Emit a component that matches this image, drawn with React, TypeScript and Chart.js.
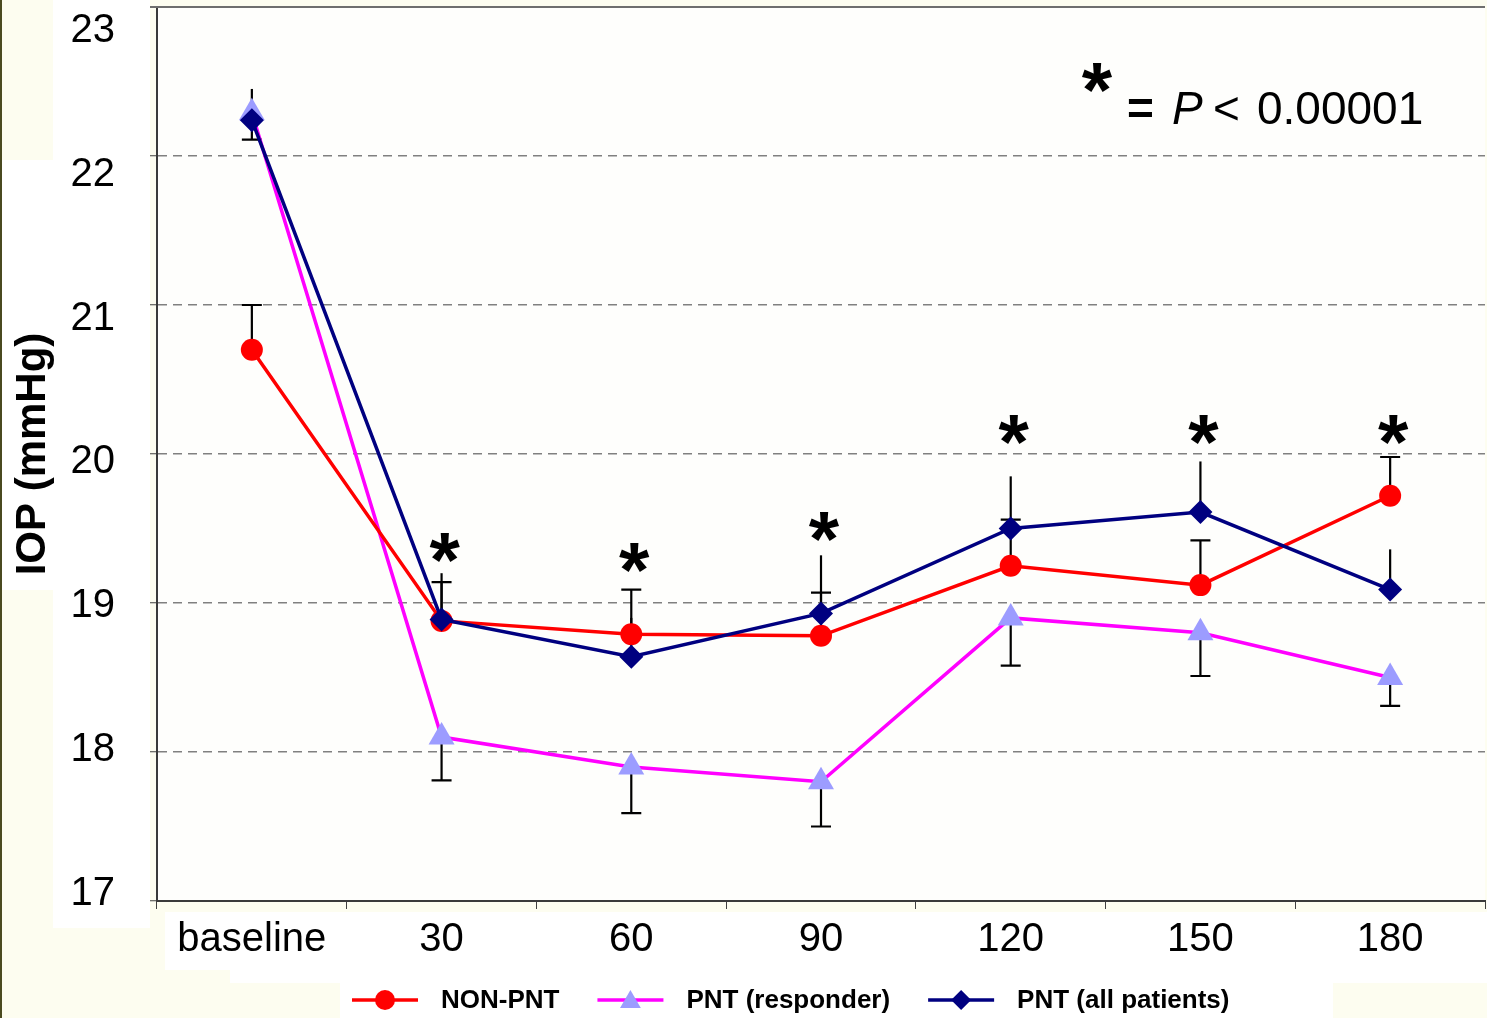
import { useEffect, useRef } from 'react';
import { Chart, registerables } from 'chart.js';

Chart.register(...registerables);

// ---------- data ----------
const categories = ['baseline', '30', '60', '90', '120', '150', '180'];
const seriesNames = ['NON-PNT', 'PNT (responder)', 'PNT (all patients)'];

const nonPnt = [20.7, 18.88, 18.79, 18.78, 19.25, 19.12, 19.72];
const pntResponder = [22.29, 18.1, 17.9, 17.8, 18.9, 18.8, 18.5];
const pntAll = [22.24, 18.89, 18.64, 18.93, 19.5, 19.61, 19.09];

// error bar ends
const nonPntUpper = [21.0, 19.14, 19.09, 19.07, 19.56, 19.42, 19.98];
const pntAllUpper = [22.45, 19.2, 18.9, 19.32, 19.85, 19.95, 19.36];
const pntResponderLower = [22.11, 17.81, 17.59, 17.5, 18.58, 18.51, 18.31];

// significance marks (value at glyph centre)
const asteriskAt: (number | null)[] = [null, 19.37, 19.3, 19.51, 20.16, 20.16, 20.16];

const yMin = 17;
const yMax = 23;
const yStep = 1;
// the tick-label column of the original is slightly stretched relative to the grid
const yLabelMin = 16.93;
const yLabelMax = 23.146;

const yTitle = 'IOP (mmHg)';

// ---------- styles ----------
const FONT = "'Liberation Sans', Arial, Helvetica, sans-serif";
const CREAM = '#FDFDF0';
const PLOT_BG = '#FEFEFC';
const RED = '#FF0000';
const MAGENTA = '#FF00FF';
const LILAC = '#9C9CFF';
const NAVY = '#000080';

function drawMarker(ctx: CanvasRenderingContext2D, kind: string, x: number, y: number, r: number, color: string) {
  ctx.fillStyle = color;
  ctx.beginPath();
  if (kind === 'circle') {
    ctx.arc(x, y, r, 0, Math.PI * 2);
  } else if (kind === 'triangle') {
    ctx.moveTo(x, y - r);
    ctx.lineTo(x + r * 0.866, y + r * 0.5);
    ctx.lineTo(x - r * 0.866, y + r * 0.5);
    ctx.closePath();
  } else {
    ctx.moveTo(x, y - r);
    ctx.lineTo(x + r, y);
    ctx.lineTo(x, y + r);
    ctx.lineTo(x - r, y);
    ctx.closePath();
  }
  ctx.fill();
}

const decorPlugin = {
  id: 'decor',
  beforeDraw(chart: any) {
    const { ctx, chartArea: a, width, height } = chart;
    ctx.save();
    ctx.fillStyle = CREAM;
    ctx.fillRect(0, 0, width, height);
    ctx.fillStyle = '#FFFFFF';
    // tick-label box
    ctx.fillRect(a.left - 104, 0, 97, a.bottom + 27);
    // title box
    ctx.fillRect(2, 160, a.left - 106, 430);
    // category label box
    ctx.fillRect(a.left + 8, a.bottom + 11, width - a.left - 8, 58);
    ctx.fillRect(a.left + 73, a.bottom + 60, width - a.left - 73, 22);
    // legend box
    ctx.fillRect(340, a.bottom + 82, 993, height - a.bottom - 82);
    // plot area
    ctx.fillStyle = PLOT_BG;
    ctx.fillRect(a.left, a.top, a.right - a.left, a.bottom - a.top);
    // left edge line
    ctx.fillStyle = '#4a4a20';
    ctx.fillRect(0, 0, 2, height);
    ctx.restore();
  },
  beforeDatasetsDraw(chart: any) {
    const { ctx, chartArea: a, scales } = chart;
    const xs = scales.x;
    const ys = scales.y;
    ctx.save();
    // top frame line
    ctx.strokeStyle = '#6e6e6e';
    ctx.lineWidth = 2;
    ctx.beginPath();
    ctx.moveTo(a.left - 7, a.top);
    ctx.lineTo(a.right, a.top);
    ctx.stroke();

    // error bars
    ctx.strokeStyle = '#000000';
    ctx.lineWidth = 2.2;
    const bar = (i: number, from: number, to: number, cap: boolean) => {
      const x = xs.getPixelForValue(i);
      const y0 = ys.getPixelForValue(from);
      const y1 = ys.getPixelForValue(to);
      ctx.beginPath();
      ctx.moveTo(x, y0);
      ctx.lineTo(x, y1);
      if (cap) {
        ctx.moveTo(x - 10, y1);
        ctx.lineTo(x + 10, y1);
      }
      ctx.stroke();
    };
    categories.forEach((_, i) => {
      bar(i, pntAll[i], pntAllUpper[i], false);
      bar(i, nonPnt[i], nonPntUpper[i], true);
      bar(i, pntResponder[i], pntResponderLower[i], true);
    });
    ctx.restore();
  },
  afterDatasetsDraw(chart: any) {
    const { ctx, chartArea: a, scales, height } = chart;
    const xs = scales.x;
    const ys = scales.y;
    ctx.save();
    ctx.fillStyle = '#000000';
    ctx.textAlign = 'center';
    ctx.textBaseline = 'alphabetic';
    ctx.font = `bold 78px ${FONT}`;
    const m = ctx.measureText('*');
    const shift = (m.actualBoundingBoxAscent - m.actualBoundingBoxDescent) / 2;
    asteriskAt.forEach((v, i) => {
      if (v == null) return;
      const x = xs.getPixelForValue(i) + 3;
      const y = ys.getPixelForValue(v);
      ctx.fillText('*', x, y + shift);
    });

    // p-value note
    ctx.fillText('*', a.right - 388, a.top + 71 + shift);
    ctx.textAlign = 'left';
    ctx.font = `bold 46px ${FONT}`;
    ctx.fillText('=', a.right - 358, a.top + 117);
    ctx.font = `italic 46px ${FONT}`;
    ctx.fillText('P', a.right - 313, a.top + 117);
    ctx.font = `46px ${FONT}`;
    ctx.fillText('<', a.right - 272, a.top + 117);
    ctx.fillText('0.00001', a.right - 228, a.top + 117);

    // legend
    const items = [
      { label: seriesNames[0], line: RED, marker: RED, kind: 'circle', r: 10 },
      { label: seriesNames[1], line: MAGENTA, marker: LILAC, kind: 'triangle', r: 12 },
      { label: seriesNames[2], line: NAVY, marker: NAVY, kind: 'diamond', r: 10 },
    ];
    const cy = height - 18;
    let x = 352;
    ctx.font = `bold 26px ${FONT}`;
    ctx.textBaseline = 'middle';
    items.forEach((it) => {
      ctx.strokeStyle = it.line;
      ctx.lineWidth = 3.5;
      ctx.beginPath();
      ctx.moveTo(x, cy);
      ctx.lineTo(x + 66, cy);
      ctx.stroke();
      drawMarker(ctx, it.kind, x + 33, cy + (it.kind === 'triangle' ? 2 : 0), it.r, it.marker);
      const tx = x + 66 + 23;
      ctx.fillStyle = '#000000';
      ctx.fillText(it.label, tx, cy + 1);
      x = tx + ctx.measureText(it.label).width + 38;
    });
    ctx.restore();
  },
};

export default function App() {
  const ref = useRef<HTMLCanvasElement | null>(null);

  useEffect(() => {
    document.body.style.margin = '0';
    const canvas = ref.current;
    if (!canvas) return;
    const chart = new Chart(canvas, {
      type: 'line',
      data: {
        labels: categories,
        datasets: [
          {
            label: seriesNames[2],
            data: pntAll,
            borderColor: NAVY,
            backgroundColor: NAVY,
            borderWidth: 3.5,
            pointStyle: 'rectRot',
            pointRadius: 12,
            pointBackgroundColor: NAVY,
            pointBorderColor: NAVY,
            pointBorderWidth: 0,
            tension: 0,
          },
          {
            label: seriesNames[0],
            data: nonPnt,
            borderColor: RED,
            backgroundColor: RED,
            borderWidth: 3.5,
            pointStyle: 'circle',
            pointRadius: 11,
            pointBackgroundColor: RED,
            pointBorderColor: RED,
            pointBorderWidth: 0,
            tension: 0,
          },
          {
            label: seriesNames[1],
            data: pntResponder,
            borderColor: MAGENTA,
            backgroundColor: LILAC,
            borderWidth: 3.5,
            pointStyle: 'triangle',
            pointRadius: 15,
            pointBackgroundColor: LILAC,
            pointBorderColor: LILAC,
            pointBorderWidth: 0,
            tension: 0,
          },
        ],
      },
      options: {
        responsive: false,
        animation: false,
        devicePixelRatio: 1,
        layout: { autoPadding: false, padding: { top: 7, right: 2, bottom: 0, left: 0 } },
        plugins: {
          legend: { display: false },
          tooltip: { enabled: false },
        },
        scales: {
          x: {
            type: 'category',
            offset: true,
            afterFit: (s: any) => {
              s.height = 117;
              s.paddingLeft = 0;
              s.paddingRight = 0;
            },
            grid: {
              display: true,
              offset: true,
              drawOnChartArea: false,
              drawTicks: true,
              tickLength: 8,
              tickColor: '#404040',
              tickWidth: 1,
            },
            border: { display: true, color: '#3a3a3a', width: 2 },
            ticks: {
              color: '#000000',
              font: { family: FONT, size: 40 },
              padding: 7,
              maxRotation: 0,
              autoSkip: false,
            },
          },
          // grid, tick marks and axis line (inner)
          y: {
            min: yMin,
            max: yMax,
            weight: 0,
            afterFit: (s: any) => {
              s.width = 7;
              s.paddingTop = 0;
              s.paddingBottom = 0;
            },
            grid: {
              color: '#808080',
              lineWidth: 1.5,
              drawTicks: true,
              tickLength: 7,
              tickColor: '#404040',
              tickWidth: 1,
              tickBorderDash: [],
            },
            border: { display: true, color: '#3a3a3a', width: 2, dash: [9, 6] },
            ticks: {
              stepSize: yStep,
              display: false,
            },
          },
          // tick labels and title (outer)
          yLabels: {
            type: 'linear',
            position: 'left',
            min: yLabelMin,
            max: yLabelMax,
            weight: 1,
            afterFit: (s: any) => {
              s.width = 150;
              s.paddingTop = 0;
              s.paddingBottom = 0;
            },
            afterBuildTicks: (s: any) => {
              const t: { value: number }[] = [];
              for (let v = yMin; v <= yMax; v += yStep) t.push({ value: v });
              s.ticks = t;
            },
            grid: { display: false, drawTicks: false },
            border: { display: false },
            ticks: {
              color: '#000000',
              font: { family: FONT, size: 40 },
              padding: 35,
              labelOffset: 3,
              autoSkip: false,
            },
            title: {
              display: true,
              text: yTitle,
              color: '#000000',
              font: { family: FONT, size: 42, weight: 'bold' },
              padding: { top: 8, bottom: 0 },
            },
          },
        },
      },
      plugins: [decorPlugin],
    } as any);
    return () => chart.destroy();
  }, []);

  return (
    <canvas
      ref={ref}
      width={1487}
      height={1018}
      style={{ display: 'block', width: '1487px', height: '1018px' }}
    />
  );
}
